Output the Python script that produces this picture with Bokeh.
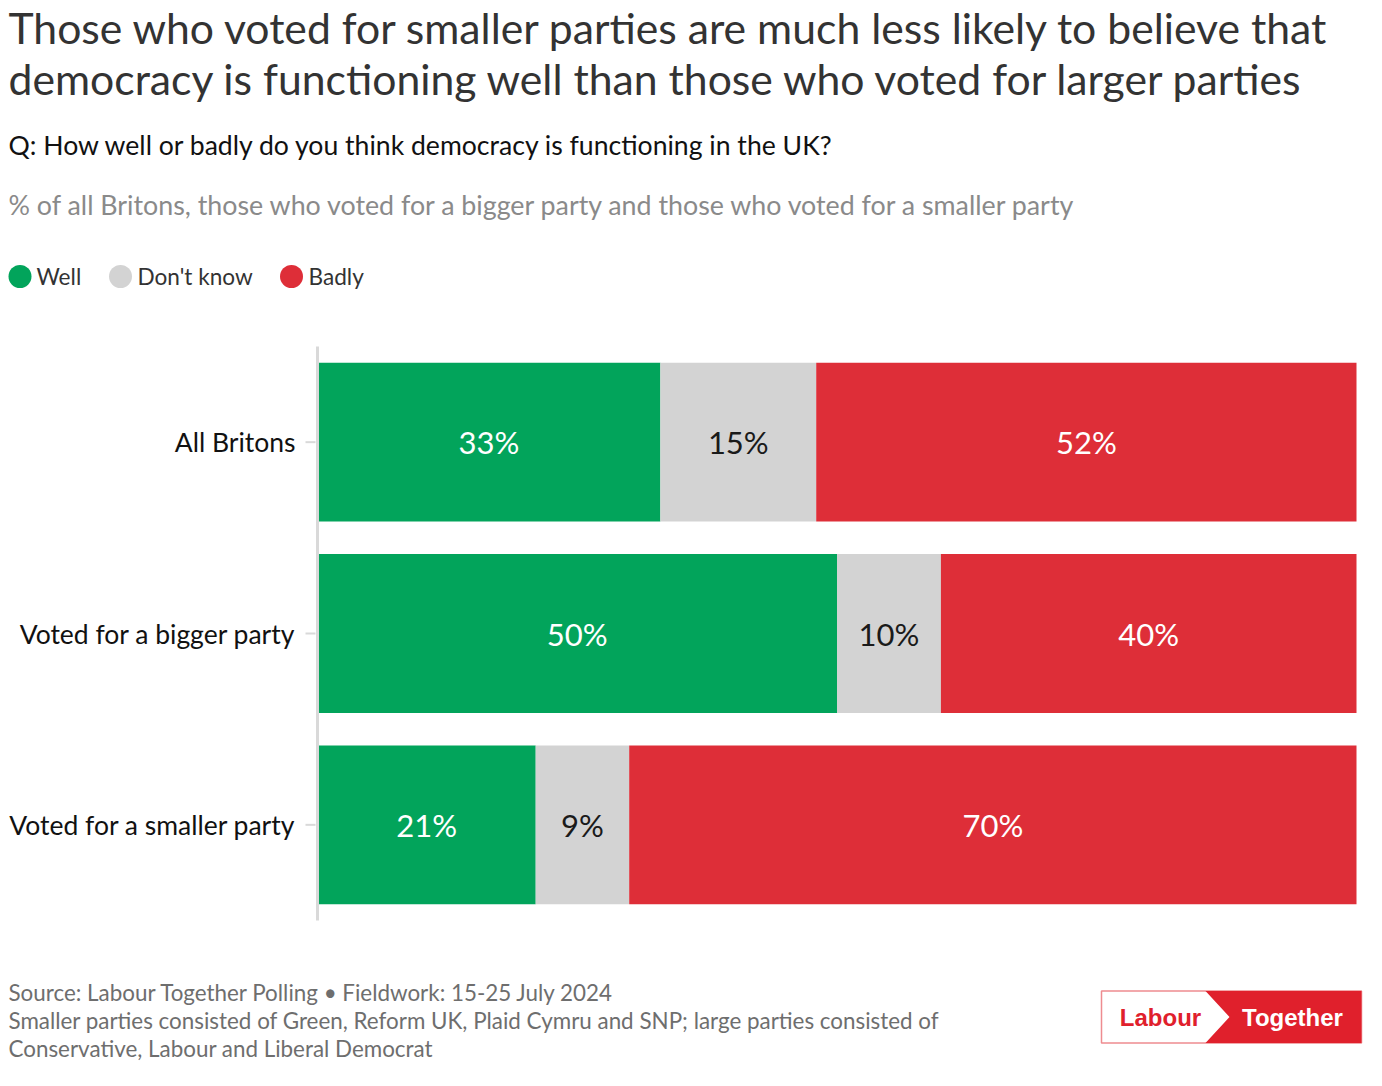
from bokeh.plotting import figure
from bokeh.models import Range1d, ColumnDataSource
from bokeh.core.properties import value
from bokeh.embed import file_html
from bokeh.resources import INLINE

# ---------------- data ----------------
groups = ["All Britons", "Voted for a bigger party", "Voted for a smaller party"]
responses = ["Well", "Don't know", "Badly"]
well = [33, 50, 21]
dont_know = [15, 10, 9]
badly = [52, 40, 70]
colors = ["#02A45B", "#D3D3D3", "#DE2E38"]
label_colors = ["#FFFFFF", "#1A1A1A", "#FFFFFF"]

title_lines = [
    "Those who voted for smaller parties are much less likely to believe that",
    "democracy is functioning well than those who voted for larger parties",
]
question = "Q: How well or badly do you think democracy is functioning in the UK?"
subtitle = "% of all Britons, those who voted for a bigger party and those who voted for a smaller party"
footer_lines = [
    "Source: Labour Together Polling \u2022 Fieldwork: 15-25 July 2024",
    "Smaller parties consisted of Green, Reform UK, Plaid Cymru and SNP; large parties consisted of",
    "Conservative, Labour and Liberal Democrat",
]

FONT = "Lato"
W, H = 1374, 1080
FL, FR, FT, FB = 317, 1356, 346, 920  # plot area edges in canvas pixels

# value scale: 0..100 % across the plot area
xs_per = (FR - FL) / 100
x_start, x_end = -FL / xs_per, 100 + (W - FR) / xs_per
# category scale: bottom category at 0, one unit per band
n = len(groups)
band = (FB - FT) / n
y_start, y_end = -0.5 - (H - FB) / band, -0.5 + FB / band

p = figure(width=W, height=H, x_range=Range1d(x_start, x_end), y_range=Range1d(y_start, y_end),
           toolbar_location=None, output_backend="svg", x_axis_location=None, y_axis_location=None,
           min_border=0, outline_line_color=None)
p.extra_x_ranges = {"px": Range1d(0, W)}
p.extra_y_ranges = {"py": Range1d(H, 0)}
p.grid.visible = False
PX = dict(x_range_name="px", y_range_name="py")

pos = [n - 1 - i for i in range(n)]
src = ColumnDataSource(dict(group=groups, pos=pos, **{"Well": well, "Don't know": dont_know, "Badly": badly}))
p.hbar_stack(responses, y="pos", height=0.83, fill_color=colors, line_color=None, source=src)

# category axis (line, ticks, labels)
p.segment(x0=[FL], x1=[FL], y0=[FT], y1=[FB], line_color="#D9D9D9", line_width=3, **PX)
p.segment(x0=FL - 12, x1=FL - 2, y0="pos", y1="pos", source=src, line_color="#D9D9D9",
          line_width=2, x_range_name="px")
p.text(x=FL - 22, y="pos", text="group", source=src, text_align="right", text_baseline="middle",
       text_font=value(FONT), text_font_size="26.5px", text_color="#111111", x_range_name="px")

# value labels inside segments
lx, ly, lt, lc = [], [], [], []
for i in range(n):
    vals = [well[i], dont_know[i], badly[i]]
    left = 0
    for j, v in enumerate(vals):
        lx.append(left + v / 2)
        ly.append(pos[i])
        lt.append(f"{v}%")
        lc.append(label_colors[j])
        left += v
p.text(x="x", y="y", text="t", text_color="c", source=ColumnDataSource(dict(x=lx, y=ly, t=lt, c=lc)),
       text_align="center", text_baseline="middle", text_font=value(FONT), text_font_size="31px")

# ---------------- header ----------------
p.text(x=[8, 8], y=[27, 78], text=title_lines, text_font=value(FONT), text_font_size="42.7px",
       text_color="#333333", text_baseline="middle", **PX)
p.text(x=[8], y=[144], text=[question], text_font=value(FONT), text_font_size="26.6px",
       text_color="#111111", text_baseline="middle", **PX)
p.text(x=[8], y=[204], text=[subtitle], text_font=value(FONT), text_font_size="26.8px",
       text_color="#8A8A8A", text_baseline="middle", **PX)

# legend
p.scatter(x=[19.5, 120, 291], y=[276] * 3, size=23, marker="circle", fill_color=colors,
          line_color=None, **PX)
p.text(x=[36, 137, 308], y=[276] * 3, text=responses, text_font=value(FONT), text_font_size="22.6px",
       text_color="#333333", text_baseline="middle", **PX)

# ---------------- footer ----------------
p.text(x=[8, 8, 8], y=[992, 1020, 1048], text=footer_lines, text_font=value(FONT),
       text_font_size="22.4px", text_color="#6E6E6E", text_baseline="middle", **PX)

# logo
p.quad(left=[1101], right=[1361], top=[990.5], bottom=[1042.5], fill_color="white",
       line_color="#EE8C90", line_width=1.5, **PX)
p.patch(x=[1205, 1361, 1361, 1205, 1229], y=[990.5, 990.5, 1042.5, 1042.5, 1016.5],
        fill_color="#E0202C", line_color=None, **PX)
p.text(x=[1160, 1292], y=[1017, 1017], text=["Labour", "Together"], text_color=["#E0202C", "#FFFFFF"],
       text_font=value("Liberation Sans"), text_font_style="bold", text_font_size="24px",
       text_align="center", text_baseline="middle", **PX)

open("out.html", "w").write(file_html(p, INLINE))
